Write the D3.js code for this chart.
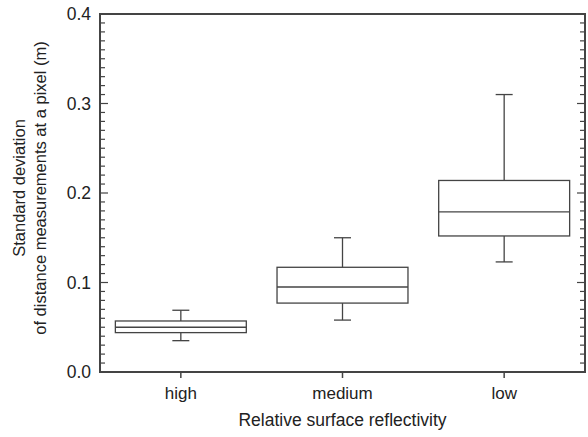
<!DOCTYPE html>
<html><head><meta charset="utf-8">
<script src="https://cdn.jsdelivr.net/npm/d3@7"></script>
<style>body{margin:0;background:#fff}svg{display:block}text{font-family:"Liberation Sans",Arial,sans-serif;fill:#222}</style>
</head><body>
<script>
const categories = ["high", "medium", "low"];
const whiskerLow  = [0.035, 0.058, 0.123];
const q1          = [0.044, 0.077, 0.152];
const median      = [0.050, 0.095, 0.179];
const q3          = [0.057, 0.117, 0.214];
const whiskerHigh = [0.069, 0.150, 0.310];
const yTicks = [0.0, 0.1, 0.2, 0.3, 0.4];

const W = 588, H = 437;
const m = {left: 100, right: 3, top: 14, bottom: 65};
const svg = d3.select("body").append("svg").attr("width", W).attr("height", H);
const x = d3.scaleBand().domain(categories).range([m.left, W - m.right]).paddingInner(0.19).paddingOuter(0.095);
const y = d3.scaleLinear().domain([0, 0.4]).range([H - m.bottom, m.top]);
const stroke = "#444";
const font = "Liberation Sans, Arial, sans-serif";

// minor ticks left & right
const minor = d3.range(0, 0.4001, 0.01);
const g = svg.append("g");
g.selectAll(".minL").data(minor).join("line")
  .attr("x1", m.left).attr("x2", d => m.left + (Math.round(d*100) % 10 === 0 ? 8 : 5))
  .attr("y1", d => y(d)).attr("y2", d => y(d)).attr("stroke", stroke).attr("stroke-width", 1.2);
g.selectAll(".minR").data(minor).join("line")
  .attr("x1", W - m.right).attr("x2", d => W - m.right - (Math.round(d*100) % 10 === 0 ? 8 : 5))
  .attr("y1", d => y(d)).attr("y2", d => y(d)).attr("stroke", stroke).attr("stroke-width", 1.2);

// y axis labels
const yAxis = d3.axisLeft(y).tickValues(yTicks).tickFormat(d3.format(".1f")).tickSize(0).tickPadding(9);
const ya = svg.append("g").attr("transform", `translate(${m.left},0)`).call(yAxis);
ya.select(".domain").remove();
ya.selectAll("text").attr("font-size", 17.5).attr("fill", "#222").attr("font-family", font);

// x axis
const xAxis = d3.axisBottom(x).tickSize(6).tickPadding(9);
const xa = svg.append("g").attr("transform", `translate(0,${H - m.bottom})`).call(xAxis);
xa.select(".domain").remove();
xa.selectAll("line").attr("stroke", stroke).attr("stroke-width", 1.5);
xa.selectAll("text").attr("font-size", 17).attr("fill", "#222").attr("font-family", font);

// frame
svg.append("rect").attr("x", m.left).attr("y", m.top).attr("width", W - m.right - m.left).attr("height", H - m.bottom - m.top)
  .attr("fill", "none").attr("stroke", stroke).attr("stroke-width", 2);

// boxes
const data = categories.map((c, i) => ({c, lo: whiskerLow[i], q1: q1[i], med: median[i], q3: q3[i], hi: whiskerHigh[i]}));
const bw = x.bandwidth();
const capW = 17;
const bx = svg.append("g").attr("stroke", stroke).attr("stroke-width", 1.3).attr("fill", "none");
data.forEach(d => {
  const cx = x(d.c) + bw / 2;
  bx.append("line").attr("x1", cx).attr("x2", cx).attr("y1", y(d.hi)).attr("y2", y(d.q3));
  bx.append("line").attr("x1", cx).attr("x2", cx).attr("y1", y(d.q1)).attr("y2", y(d.lo));
  bx.append("line").attr("x1", cx - capW/2).attr("x2", cx + capW/2).attr("y1", y(d.hi)).attr("y2", y(d.hi));
  bx.append("line").attr("x1", cx - capW/2).attr("x2", cx + capW/2).attr("y1", y(d.lo)).attr("y2", y(d.lo));
  bx.append("rect").attr("x", x(d.c)).attr("y", y(d.q3)).attr("width", bw).attr("height", y(d.q1) - y(d.q3));
  bx.append("line").attr("x1", x(d.c)).attr("x2", x(d.c) + bw).attr("y1", y(d.med)).attr("y2", y(d.med));
});

// titles
svg.append("text").attr("x", (m.left + W - m.right) / 2).attr("y", 426).attr("text-anchor", "middle")
  .attr("font-size", 17.5).text("Relative surface reflectivity");
const yt = svg.append("text").attr("transform", "translate(0,188) rotate(-90)").attr("text-anchor", "middle").attr("font-size", 16.5);
yt.append("tspan").attr("x", 0).attr("y", 25).text("Standard deviation");
yt.append("tspan").attr("x", 0).attr("y", 46).text("of distance measurements at a pixel (m)");
</script>
</body></html>
